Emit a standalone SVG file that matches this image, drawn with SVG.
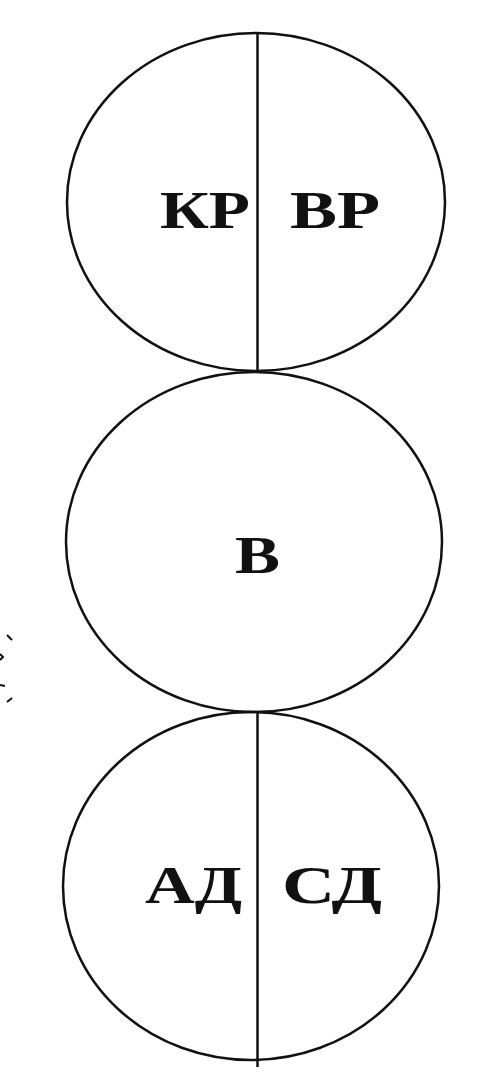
<svg xmlns="http://www.w3.org/2000/svg" width="501" height="1076" viewBox="0 0 501 1076">
<style>
.c{fill:none;stroke:#111;stroke-width:2.5}
.l{stroke:#111;stroke-width:2.5}
.t{font-family:"Liberation Serif","DejaVu Serif",serif;font-weight:bold;font-size:52px;fill:#111}
</style>
<rect width="501" height="1076" fill="#fff"/>
<g id="top">
<ellipse class="c" cx="256" cy="202" rx="189" ry="169"/>
<text class="t" x="160" y="228" textLength="90" lengthAdjust="spacingAndGlyphs">КР</text>
<text class="t" x="290" y="228" textLength="90" lengthAdjust="spacingAndGlyphs">ВР</text>
</g>
<g id="middle">
<ellipse class="c" cx="254" cy="542" rx="188" ry="170"/>
<text class="t" x="235" y="573" textLength="45" lengthAdjust="spacingAndGlyphs">В</text>
</g>
<g id="bottom">
<ellipse class="c" cx="251" cy="886" rx="188" ry="174"/>
<text class="t" x="145" y="903" textLength="97" lengthAdjust="spacingAndGlyphs">АД</text>
<text class="t" x="282" y="903" textLength="100" lengthAdjust="spacingAndGlyphs">СД</text>
</g>
<g id="connectors">
<line class="l" x1="257.5" y1="33" x2="257.5" y2="372"/>
<line class="l" x1="257.5" y1="712" x2="257.5" y2="1067"/>
</g>
<g id="mark" stroke="#111" stroke-width="2" fill="none">
<path d="M7 635 L12 640"/>
<path d="M0 654 L3 657 L0 660"/>
<path d="M0 685 L5 686"/>
<path d="M7 702 L12 698"/>
</g>
</svg>
